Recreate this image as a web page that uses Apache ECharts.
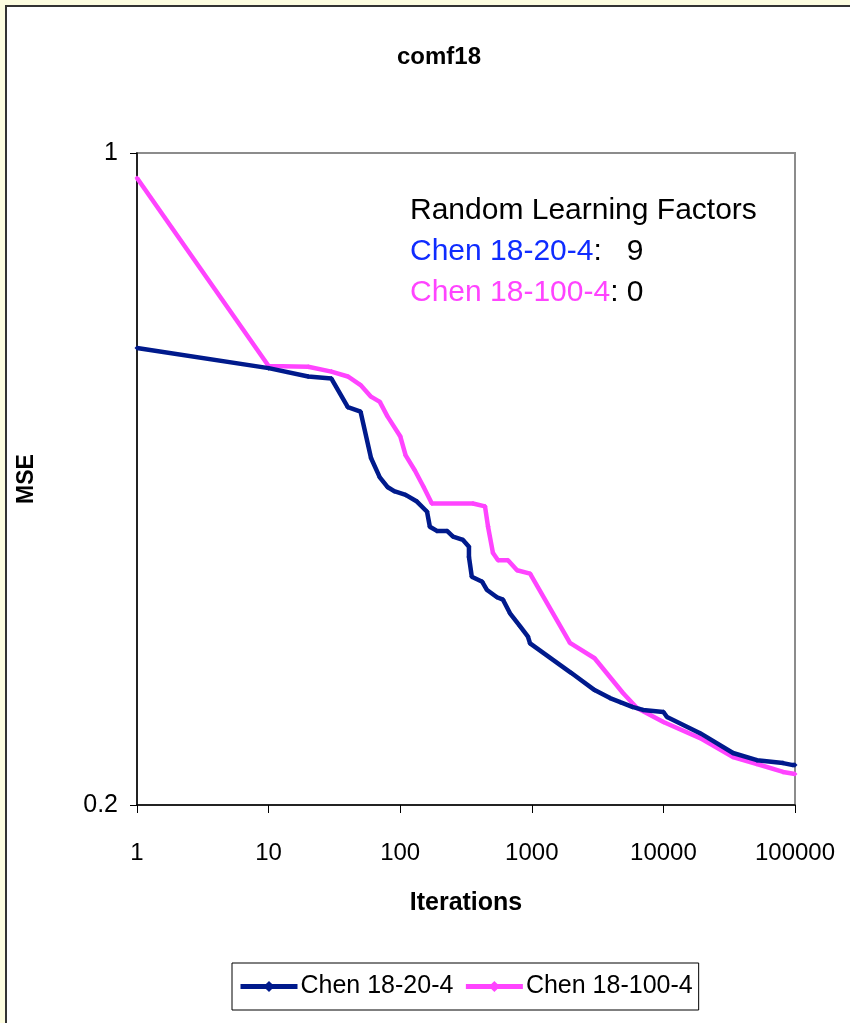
<!DOCTYPE html>
<html>
<head>
<meta charset="utf-8">
<script src="https://cdn.jsdelivr.net/npm/echarts@6/dist/echarts.min.js"></script>
<style>
    html, body { margin: 0; padding: 0; background: #fdfde0; }
    #wrap { position: relative; width: 850px; height: 1023px; overflow: hidden; background: #fdfde0; }
    #frame { position: absolute; left: 5px; top: 5px; width: 900px; height: 1100px; background: #fff;
             border-left: 2px solid #333; border-top: 2px solid #333; }
    #main { position: absolute; left: 0; top: 0; width: 850px; height: 1023px; }
</style>
</head>
<body>
<div id="wrap">
    <div id="frame"></div>
    <div id="main"></div>
</div>
<script>
    // Chen 18-20-4 (blue)
    var blueIters = [1, 10, 20, 30, 40, 50, 60, 70, 80, 90, 110, 134, 160, 168, 190, 227, 252, 300, 333, 333,
        350, 420, 457, 544, 604, 683, 813, 935, 970, 2000, 3000, 3930, 4700, 5800, 7000, 10000, 10650,
        19000, 33800, 51400, 81100, 96600, 100000];
    var blueMse = [0.618, 0.588, 0.576, 0.573, 0.534, 0.528, 0.471, 0.449, 0.4385, 0.434, 0.430, 0.423, 0.4125, 0.3975, 0.3934, 0.3934, 0.388, 0.3847, 0.3784, 0.369,
        0.3513, 0.347, 0.340, 0.334, 0.332, 0.321, 0.311, 0.303, 0.298, 0.277, 0.2656, 0.2604, 0.2578, 0.2548, 0.2529, 0.2516, 0.2485,
        0.2388, 0.2274, 0.2234, 0.2218, 0.2207, 0.2207];

    // Chen 18-100-4 (pink)
    var pinkIters = [1, 10, 20, 30, 40, 50, 60, 70, 80, 100, 110, 129, 150, 174, 357, 441, 465, 507, 554, 659,
        773, 970, 1950, 3000, 4930, 6300, 10000, 19000, 33800, 51400, 81100, 100000];
    var pinkMse = [0.940, 0.591, 0.590, 0.583, 0.576, 0.564, 0.548, 0.541, 0.522, 0.497, 0.474, 0.457, 0.439, 0.421, 0.421, 0.418, 0.3975, 0.3725, 0.366, 0.366,
        0.357, 0.354, 0.2984, 0.2873, 0.2637, 0.2541, 0.2455, 0.2359, 0.2251, 0.2213, 0.2170, 0.2159];

    var seriesNames = ['Chen 18-20-4', 'Chen 18-100-4'];
    var colors = ['#001a8c', '#ff44ff'];

    function zip(xs, ys) {
        return xs.map(function (x, i) { return [x, ys[i]]; });
    }

    var myChart = echarts.init(document.getElementById('main'));
    var font = 'Liberation Sans, Arial, sans-serif';

    var option = {
        backgroundColor: 'transparent',
        animation: false,
        textStyle: { fontFamily: font },
        title: {
            text: 'comf18',
            left: 392,
            top: 40,
            textStyle: { fontSize: 24, fontWeight: 'bold', color: '#000', fontFamily: font }
        },
        legend: {
            data: seriesNames,
            left: 232,
            top: 963,
            padding: [11, 6, 11, 6],
            itemGap: 10,
            itemWidth: 57,
            itemHeight: 14,
            borderColor: '#000',
            borderWidth: 1,
            backgroundColor: '#fff',
            lineStyle: { width: 5 },
            textStyle: { fontSize: 25, color: '#000', fontFamily: font, padding: [0, 0, 0, -2] }
        },
        grid: {
            left: 137,
            right: 55,
            top: 153,
            bottom: 218,
            show: true,
            borderColor: '#8c8c8c',
            borderWidth: 2,
            backgroundColor: '#fff'
        },
        xAxis: {
            type: 'log',
            logBase: 10,
            min: 1,
            max: 100000,
            name: 'Iterations',
            nameLocation: 'middle',
            nameGap: 86,
            nameTextStyle: { fontSize: 25, fontWeight: 'bold', color: '#000' },
            axisLine: { lineStyle: { color: '#000', width: 1.5 } },
            axisTick: { length: 8, lineStyle: { color: '#000' } },
            axisLabel: {
                fontSize: 24,
                color: '#000',
                margin: 36,
                formatter: function (v) { return String(Math.round(v)); }
            },
            splitLine: { show: false },
            minorTick: { show: false }
        },
        yAxis: {
            type: 'log',
            logBase: 10,
            min: 0.2,
            max: 1,
            name: 'MSE',
            nameLocation: 'middle',
            nameRotate: 90,
            nameGap: 99,
            nameTextStyle: { fontSize: 23, fontWeight: 'bold', color: '#000' },
            axisLine: { lineStyle: { color: '#000', width: 1.5 } },
            axisTick: { length: 7, lineStyle: { color: '#000' } },
            axisLabel: { fontSize: 25, color: '#000', margin: 19 },
            splitLine: { show: false }
        },
        graphic: [
            {
                type: 'text',
                left: 410,
                top: 190,
                style: {
                    text: 'Random Learning Factors\n{b|Chen 18-20-4}:   9\n{p|Chen 18-100-4}: 0',
                    fontSize: 30,
                    fontFamily: font,
                    lineHeight: 41,
                    fill: '#000',
                    rich: {
                        b: { fill: '#0f2cff', fontSize: 30, fontFamily: font, lineHeight: 41 },
                        p: { fill: '#ff44ff', fontSize: 30, fontFamily: font, lineHeight: 41 }
                    }
                }
            }
        ],
        series: [
            {
                name: seriesNames[0],
                type: 'line',
                data: zip(blueIters, blueMse),
                symbol: 'diamond',
                symbolSize: 5,
                color: colors[0],
                lineStyle: { width: 4.5, color: colors[0] },
                z: 3
            },
            {
                name: seriesNames[1],
                type: 'line',
                data: zip(pinkIters, pinkMse),
                symbol: 'diamond',
                symbolSize: 5,
                color: colors[1],
                lineStyle: { width: 4.5, color: colors[1] },
                z: 2
            }
        ]
    };
    myChart.setOption(option);
</script>
</body>
</html>
